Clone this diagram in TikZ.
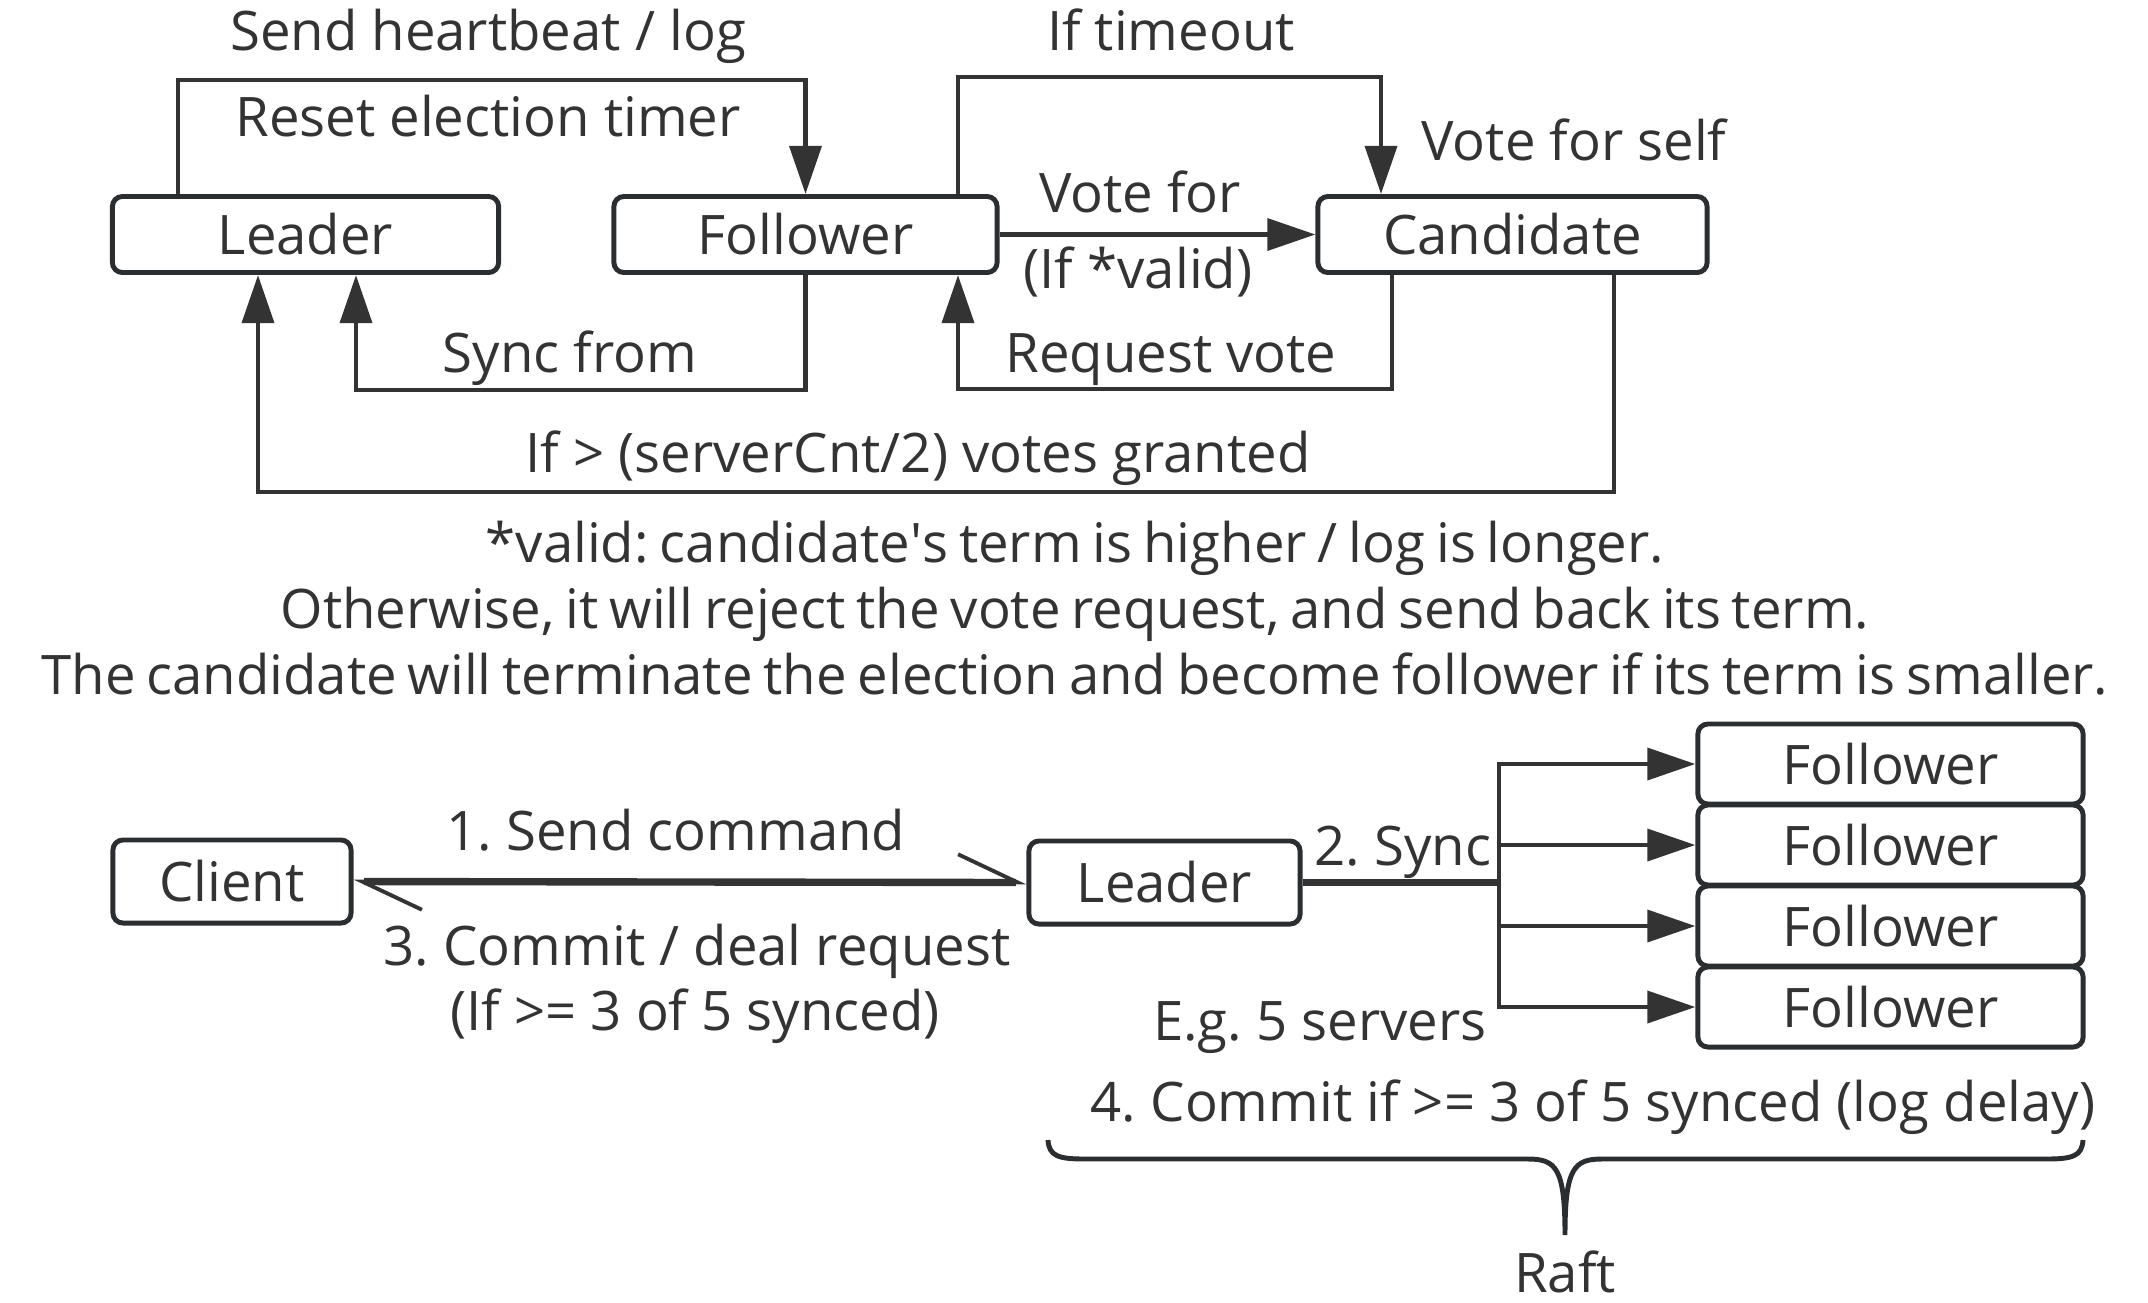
\documentclass[tikz,border=0pt]{standalone}
\usepackage{fontspec}
\setmainfont{Open Sans}
\usetikzlibrary{arrows.meta,calc}
\definecolor{ink}{HTML}{333333}
\definecolor{edge}{HTML}{2A2E31}
\tikzset{harp/.tip={Straight Barb[harpoon,length=17pt,width=16pt,line width=1.1pt]}}
\newcommand{\tightwords}{\spaceskip=0.2em\relax}
\begin{document}
\begin{tikzpicture}[x=0.01cm,y=-0.01cm,
  every node/.style={font=\fontsize{15.5pt}{18pt}\selectfont\frenchspacing, text=ink},
  box/.style={draw=edge, line width=1.4pt, rounded corners=0.1cm, inner sep=0pt, minimum height=0.76cm},
  lbl/.style={anchor=base, inner sep=0pt},
  conn/.style={draw=ink, line width=1.4pt},
  arr/.style={conn, -{Triangle[length=13.7pt,width=9pt]}},
  thk/.style={draw=ink, line width=2.1pt}
]
\useasboundingbox (0,0) rectangle (2148,1302);
% ---------- top: state machine ----------
\node[box, minimum width=3.86cm] (L1) at (305.5,234.5) {Leader};
\node[box, minimum width=3.83cm] (F1) at (805.5,234.5) {Follower};
\node[box, minimum width=3.89cm] (C1) at (1512.5,234.5) {Candidate};

\coordinate (hb) at (178,80);
\coordinate (sf) at (356,390);
\coordinate (to) at (958,77);
\coordinate (tr) at (1381,77);
\coordinate (rvr) at (1392,389);
\coordinate (rv) at (958,389);
\coordinate (gr) at (1614,492);
\coordinate (gl) at (258,492);

\draw[arr] (L1.north -| hb) |- (hb -| F1.north) -- (F1.north);
\draw[arr] (F1.south) |- (sf) -- (L1.south -| sf);
\draw[arr] (F1.north -| to) |- (tr) -- (C1.north -| tr);
\draw[arr] (F1.east) -- (C1.west);
\draw[arr] (C1.south -| rvr) |- (rv) -- (F1.south -| rv);
\draw[arr] (C1.south -| gr) |- (gl) -- (L1.south -| gl);

\node[lbl] (t1) at (488,50) {Send heartbeat / log};
\node[lbl] (t2) at (488,136) {Reset election timer};
\node[lbl] (t3) at (1171,50) {If timeout};
\node[lbl] (t4) at (1574,160) {Vote for self};
\node[lbl] (t5) at (1140,212) {Vote for};
\node[lbl] (t6) at (1138,288) {(If *valid)};
\node[lbl] (t7) at (570,372) {Sync from};
\node[lbl] (t8) at (1171,372) {Request vote};
\node[lbl] (t9) at (918,472) {If > (serverCnt/2) votes granted};

\node[lbl] (n1) at (1075,562) {\tightwords *valid: candidate\textquotesingle s term is higher / log is longer.};
\node[lbl] (n2) at (1075,628) {\tightwords Otherwise, it will reject the vote request, and send back its term.};
\node[lbl] (n3) at (1075,694) {\tightwords The candidate will terminate the election and become follower if its term is smaller.};

% ---------- bottom: replication ----------
\node[box, minimum width=2.38cm, minimum height=0.83cm] (CL) at (232,881.5) {Client};
\node[box, minimum width=2.71cm, minimum height=0.83cm] (LB) at (1164.5,882.5) {Leader};
\node[box, minimum width=3.85cm, minimum height=0.80cm] (FA) at (1890.5,764) {Follower};
\node[box, minimum width=3.85cm, minimum height=0.80cm] (FB) at (1890.5,845) {Follower};
\node[box, minimum width=3.85cm, minimum height=0.80cm] (FC) at (1890.5,926) {Follower};
\node[box, minimum width=3.85cm, minimum height=0.80cm] (FD) at (1890.5,1007) {Follower};

\draw[thk, {harp}-{harp}] (CL.east) -- (LB.west);

\coordinate (fk) at (1499,882.5);
\draw[thk] (LB.east) -- (fk);
\draw[arr] (fk) |- (FA.west);
\draw[arr] (fk) |- (FB.west);
\draw[arr] (fk) |- (FC.west);
\draw[arr] (fk) |- (FD.west);

\node[lbl] (b1) at (676,850) {1. Send command};
\node[lbl] (b2) at (697,965) {3. Commit / deal request};
\node[lbl] (b3) at (695,1030) {(If >= 3 of 5 synced)};
\node[lbl] (b4) at (1403,865) {2. Sync};
\node[lbl] (b5) at (1320,1040) {E.g. 5 servers};
\node[lbl] (b6) at (1593,1121) {4. Commit if >= 3 of 5 synced (log delay)};

\draw[draw=edge, line width=1.4pt]
  (1048,1140) .. controls (1049,1156) and (1058,1159) .. (1085,1159)
  -- (1528,1159) .. controls (1556,1159) and (1565,1168) .. (1565,1235)
  .. controls (1565,1168) and (1574,1159) .. (1602,1159)
  -- (2046,1159) .. controls (2073,1159) and (2082,1156) .. (2083,1140);
\node[lbl] (raft) at (1565,1292) {Raft};
\end{tikzpicture}
\end{document}
